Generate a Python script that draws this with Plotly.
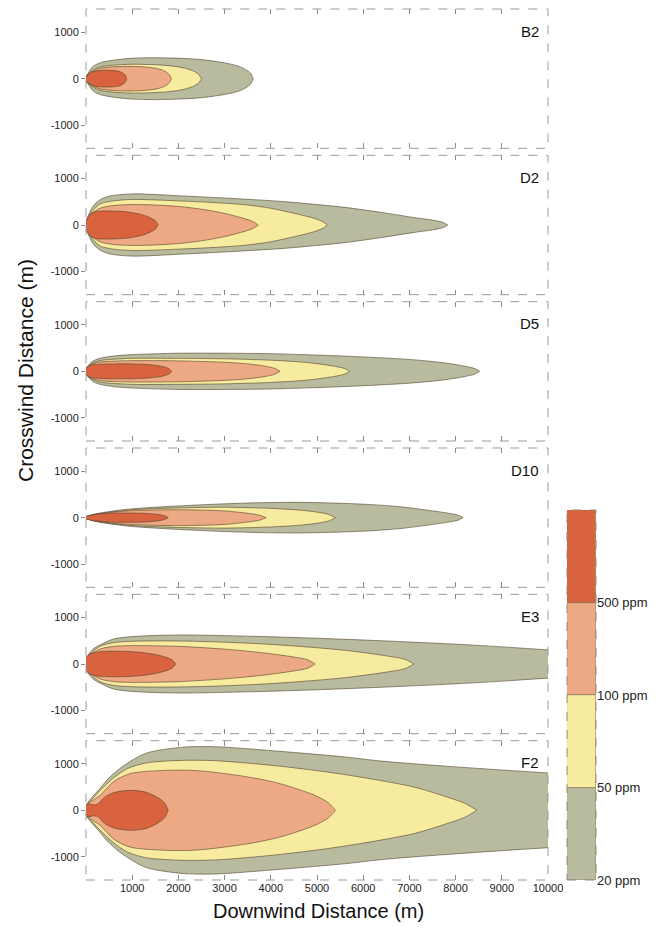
import plotly.graph_objects as go

# ---------------- data ----------------
PANELS = ["B2", "D2", "D5", "D10", "E3", "F2"]
LEVELS = [20, 50, 100, 500]               # ppm, drawn outer -> inner
LEVEL_LABELS = ["20 ppm", "50 ppm", "100 ppm", "500 ppm"]
X_TICKS = [1000, 2000, 3000, 4000, 5000, 6000, 7000, 8000, 9000, 10000]
X_TICK_TEXT = ["1000", "2000", "3000", "4000", "5000", "6000", "7000", "8000", "9000", "10000"]
Y_TICKS = [-1000, 0, 1000]
Y_TICK_TEXT = ["-1000", "0", "1000"]

# each entry: (downwind distance m, plume half-width m)
B2 = {
    20: ([0, 60, 150, 300, 600, 1000, 1500, 2000, 2500, 3000, 3300, 3450, 3560, 3620],
         [50, 140, 260, 340, 400, 440, 450, 440, 410, 340, 270, 200, 120, 0]),
    50: ([0, 100, 300, 600, 1000, 1500, 1800, 2100, 2300, 2430, 2500],
         [40, 150, 250, 290, 310, 300, 280, 235, 175, 100, 0]),
    100: ([0, 100, 300, 600, 1000, 1300, 1550, 1700, 1790, 1850],
          [40, 130, 220, 255, 265, 250, 215, 165, 100, 0]),
    500: ([0, 50, 150, 300, 500, 700, 790, 850, 880],
          [40, 90, 150, 175, 180, 160, 125, 75, 0]),
}
D2 = {
    20: ([0, 50, 150, 300, 500, 1000, 2000, 3000, 4200, 5000, 5600, 6400, 7100, 7500, 7720, 7830],
         [60, 200, 400, 540, 620, 670, 630, 580, 510, 440, 380, 270, 160, 105, 60, 0]),
    50: ([0, 100, 300, 600, 1000, 2000, 3000, 3500, 4000, 4600, 4950, 5130, 5220],
         [50, 250, 450, 520, 550, 520, 470, 430, 360, 230, 140, 70, 0]),
    100: ([0, 100, 300, 600, 1000, 1500, 2000, 2500, 3000, 3350, 3600, 3730],
          [50, 220, 360, 420, 440, 430, 400, 340, 250, 160, 80, 0]),
    500: ([0, 60, 150, 300, 600, 900, 1200, 1380, 1500, 1560],
          [100, 200, 270, 300, 300, 280, 225, 160, 90, 0]),
}
D5 = {
    20: ([0, 50, 150, 300, 600, 1000, 2000, 3000, 4000, 5000, 6000, 7000, 7700, 8150, 8400, 8520],
         [60, 130, 220, 280, 330, 360, 390, 390, 380, 350, 310, 255, 190, 120, 65, 0]),
    50: ([0, 100, 300, 600, 1000, 2000, 3000, 4000, 4600, 5000, 5400, 5600, 5700],
         [50, 150, 230, 260, 280, 280, 270, 240, 205, 165, 105, 60, 0]),
    100: ([0, 100, 300, 600, 1000, 2000, 3000, 3500, 3850, 4080, 4200],
          [50, 140, 200, 220, 230, 225, 195, 160, 115, 65, 0]),
    500: ([0, 100, 300, 600, 1000, 1400, 1650, 1790, 1860],
          [70, 130, 155, 160, 160, 140, 105, 60, 0]),
}
D10 = {
    20: ([0, 200, 600, 1000, 1750, 2800, 3700, 4600, 5500, 6200, 6800, 7400, 7850, 8050, 8160],
         [20, 80, 145, 190, 240, 290, 320, 330, 310, 280, 235, 160, 95, 55, 0]),
    50: ([0, 200, 600, 1000, 2000, 3000, 4000, 4600, 5000, 5250, 5400],
         [20, 70, 130, 170, 210, 225, 200, 165, 120, 70, 0]),
    100: ([0, 200, 600, 1000, 1500, 2200, 3000, 3450, 3750, 3900],
          [20, 70, 120, 150, 165, 170, 145, 100, 55, 0]),
    500: ([0, 200, 500, 900, 1300, 1550, 1700, 1780],
          [30, 70, 95, 100, 92, 70, 40, 0]),
}
E3 = {
    20: ([0, 50, 150, 300, 600, 1000, 2000, 4200, 6400, 8500, 10000, 10500],
         [80, 200, 320, 410, 540, 590, 625, 580, 500, 400, 305, 280]),
    50: ([0, 100, 300, 600, 1000, 2000, 3000, 4200, 5600, 6500, 6900, 7100],
         [60, 220, 380, 460, 490, 495, 470, 410, 295, 175, 100, 0]),
    100: ([0, 100, 300, 600, 1000, 2000, 3000, 3500, 4000, 4500, 4800, 4960],
          [60, 200, 320, 380, 395, 380, 320, 275, 220, 150, 90, 0]),
    500: ([0, 60, 150, 300, 600, 900, 1200, 1500, 1720, 1870, 1940],
          [140, 200, 240, 265, 275, 270, 250, 205, 150, 85, 0]),
}
F2 = {
    20: ([0, 50, 150, 300, 500, 800, 1300, 2100, 2800, 4200, 5600, 6400, 7800, 10000, 10500],
         [90, 180, 300, 470, 700, 950, 1230, 1360, 1370, 1270, 1150, 1060, 950, 805, 780]),
    50: ([0, 50, 150, 300, 600, 900, 1300, 2050, 2800, 4200, 5600, 7100, 7800, 8200, 8460],
         [80, 160, 260, 420, 700, 900, 1020, 1075, 1068, 950, 770, 500, 290, 150, 0]),
    100: ([0, 50, 150, 300, 600, 950, 1700, 2400, 3500, 4200, 4960, 5250, 5400],
          [70, 140, 220, 320, 620, 790, 860, 855, 720, 575, 320, 160, 0]),
    500: ([0, 40, 150, 250, 400, 600, 950, 1300, 1560, 1700, 1780],
          [110, 140, 120, 130, 280, 380, 430, 390, 270, 160, 0]),
}
PANEL_DATA = {"B2": B2, "D2": D2, "D5": D5, "D10": D10, "E3": E3, "F2": F2}

# ---------------- styles / geometry ----------------
COLORS = {20: "#b8bb9e", 50: "#f6eb9f", 100: "#eca984", 500: "#d9633f"}
EDGE = "rgba(85,65,45,0.75)"
FONT = "Liberation Sans, Arial, sans-serif"
OFF = 8                      # page body margin of the html page
W, H = 654, 916              # fits the 670x932 window with the 8px body margin
ML, MR, MT, MB = 78, 4, 1, 44
PW = W - ML - MR
PH = H - MT - MB
PLOT_BOTTOM = H - MB


def px_x(page_x):
    return (page_x - OFF - ML) / PW


def px_y(page_y):
    return (PLOT_BOTTOM - (page_y - OFF)) / PH


def clamp(v):
    return min(1.0, max(0.0, v))


X_RIGHT = px_x(548)
GAP = 7.0
PANEL_H = (PH - 5 * GAP) / 6

fig = go.Figure()
layout = dict(
    width=W, height=H, autosize=False,
    margin=dict(l=ML, r=MR, t=MT, b=MB, autoexpand=False),
    paper_bgcolor="white", plot_bgcolor="white",
    showlegend=False,
    font=dict(family=FONT, size=11, color="#222"),
)
shapes = []
annotations = []

for i, name in enumerate(PANELS):
    n = i + 1
    xa = "x" if n == 1 else f"x{n}"
    ya = "y" if n == 1 else f"y{n}"
    top_px = i * (PANEL_H + GAP)
    y1 = clamp(1 - top_px / PH)
    y0 = clamp(1 - (top_px + PANEL_H) / PH)
    for lev in LEVELS:
        xs, ws = PANEL_DATA[name][lev]
        px = list(xs) + list(xs[::-1])
        py = list(ws) + [-w for w in ws[::-1]]
        fig.add_trace(go.Scatter(
            x=px, y=py, xaxis=xa, yaxis=ya, mode="lines",
            line=dict(color=EDGE, width=0.8, shape="spline", smoothing=0.8),
            fill="toself", fillcolor=COLORS[lev], hoverinfo="skip",
        ))
    layout["xaxis" if n == 1 else f"xaxis{n}"] = dict(
        domain=[0, X_RIGHT], range=[0, 10000], anchor=ya, automargin=False,
        tickvals=X_TICKS, ticktext=X_TICK_TEXT,
        ticks="inside", ticklen=5, tickcolor="#8a8a8a",
        mirror="ticks", showline=False, showgrid=False, zeroline=False,
        showticklabels=(n == 6), tickfont=dict(size=11, color="#222"),
    )
    layout["yaxis" if n == 1 else f"yaxis{n}"] = dict(
        domain=[y0, y1], range=[-1500, 1500], anchor=xa, automargin=False,
        tickvals=Y_TICKS, ticktext=Y_TICK_TEXT,
        ticks="outside", ticklen=4, tickcolor="#8a8a8a",
        showline=False, showgrid=False, zeroline=False,
        tickfont=dict(size=11, color="#222"),
    )
    shapes.append(dict(
        type="rect", xref=f"{xa} domain", yref=f"{ya} domain",
        x0=0, x1=1, y0=0, y1=1,
        line=dict(color="#9a9a9a", width=1, dash="dash"),
    ))
    annotations.append(dict(
        text=name, xref=f"{xa} domain", yref=f"{ya} domain",
        x=0.985, y=0.84, xanchor="right", yanchor="middle",
        showarrow=False, font=dict(size=15, color="#111", family=FONT),
    ))

# ---------------- colour key ----------------
fig.add_trace(go.Bar(
    x=[0, 0, 0, 0], y=[1, 1, 1, 1], base=[0, 1, 2, 3], width=1,
    marker=dict(color=[COLORS[l] for l in LEVELS],
                line=dict(color="rgba(120,100,80,0.7)", width=0.8)),
    xaxis="x7", yaxis="y7", hoverinfo="skip",
))
layout["xaxis7"] = dict(domain=[px_x(567), px_x(596)], range=[-0.5, 0.5], anchor="y7",
                        visible=False, fixedrange=True, automargin=False)
layout["yaxis7"] = dict(domain=[0, px_y(510)], range=[0, 4], anchor="x7", side="right",
                        tickvals=[0, 1, 2, 3], ticktext=LEVEL_LABELS, ticks="",
                        showgrid=False, zeroline=False, showline=False, automargin=False,
                        tickfont=dict(size=13, color="#222"))
shapes.append(dict(type="rect", xref="x7 domain", yref="y7 domain",
                   x0=0, x1=1, y0=0, y1=1,
                   line=dict(color="#9a8a7a", width=1, dash="dash")))

# ---------------- axis titles ----------------
annotations.append(dict(
    text="Crosswind Distance (m)", xref="paper", yref="paper",
    x=px_x(25), y=px_y(371), textangle=-90,
    xanchor="center", yanchor="middle", showarrow=False,
    font=dict(size=21, color="#111", family=FONT),
))
annotations.append(dict(
    text="Downwind Distance (m)", xref="paper", yref="paper",
    x=px_x(318), y=px_y(911),
    xanchor="center", yanchor="middle", showarrow=False,
    font=dict(size=20, color="#111", family=FONT),
))

layout["shapes"] = shapes
layout["annotations"] = annotations
layout["bargap"] = 0
fig.update_layout(**layout)
fig.write_html("out.html")
